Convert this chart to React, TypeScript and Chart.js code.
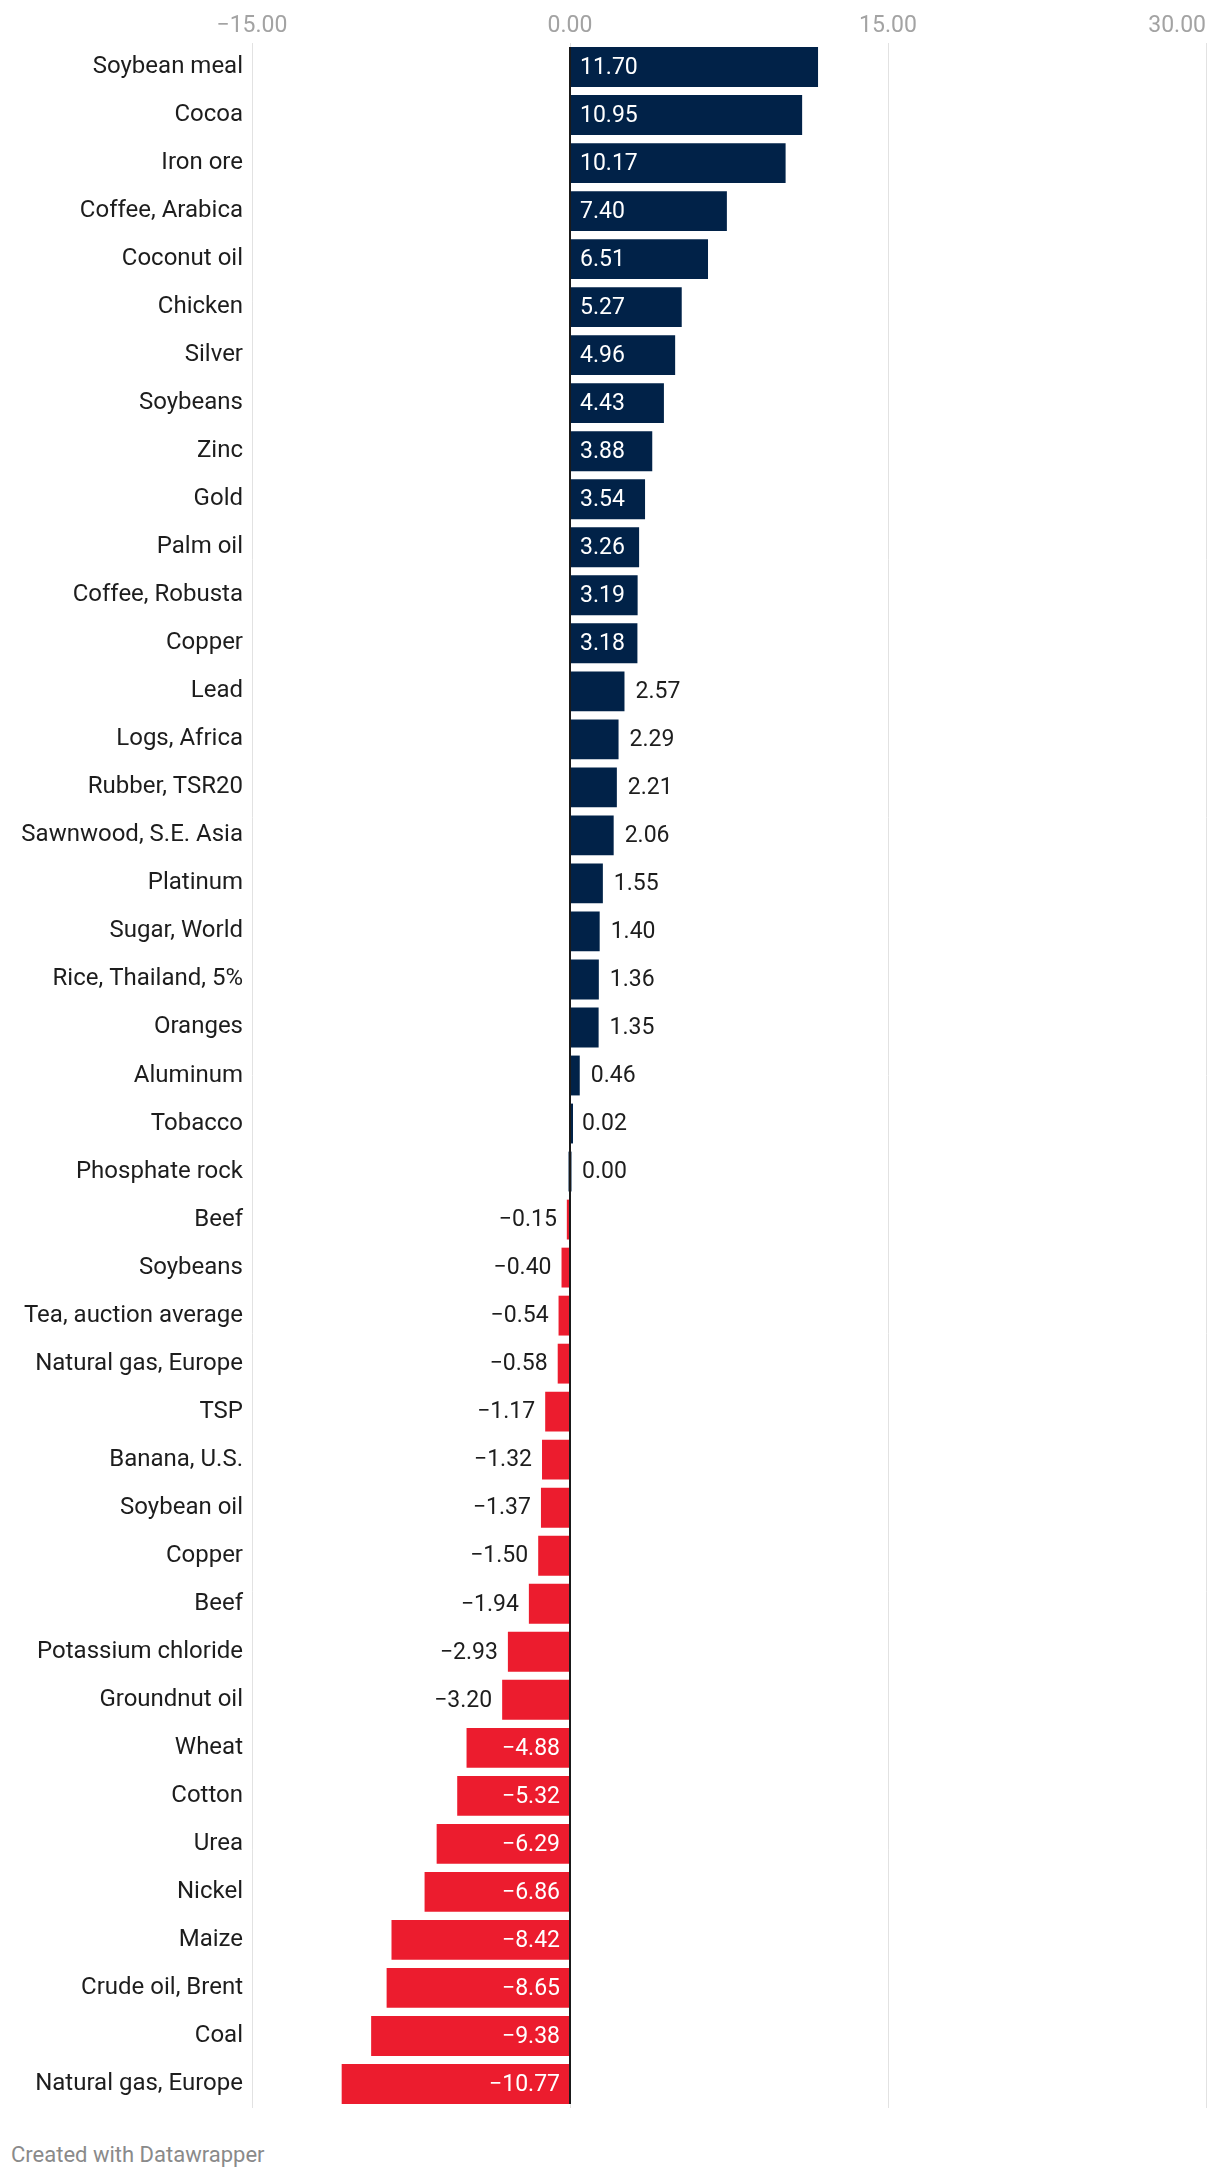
import React, { useEffect, useRef } from "react";
import { Chart, registerables } from "chart.js";

Chart.register(...registerables);

const categories: string[] = [
  "Soybean meal", "Cocoa", "Iron ore", "Coffee, Arabica", "Coconut oil", "Chicken", "Silver",
  "Soybeans", "Zinc", "Gold", "Palm oil", "Coffee, Robusta", "Copper", "Lead", "Logs, Africa",
  "Rubber, TSR20", "Sawnwood, S.E. Asia", "Platinum", "Sugar, World", "Rice, Thailand, 5%",
  "Oranges", "Aluminum", "Tobacco", "Phosphate rock", "Beef", "Soybeans", "Tea, auction average",
  "Natural gas, Europe", "TSP", "Banana, U.S.", "Soybean oil", "Copper", "Beef",
  "Potassium chloride", "Groundnut oil", "Wheat", "Cotton", "Urea", "Nickel", "Maize",
  "Crude oil, Brent", "Coal", "Natural gas, Europe",
];

const values: number[] = [
  11.7, 10.95, 10.17, 7.4, 6.51, 5.27, 4.96, 4.43, 3.88, 3.54, 3.26, 3.19, 3.18, 2.57, 2.29,
  2.21, 2.06, 1.55, 1.4, 1.36, 1.35, 0.46, 0.02, 0.0, -0.15, -0.4, -0.54, -0.58, -1.17, -1.32,
  -1.37, -1.5, -1.94, -2.93, -3.2, -4.88, -5.32, -6.29, -6.86, -8.42, -8.65, -9.38, -10.77,
];

const tickValues: number[] = [-15, 0, 15, 30];

const NAVY = "#012248";
const RED = "#ec1c2e";
const FONT = "Roboto, 'Noto Sans', sans-serif";

const fmt = (v: number) => (v < 0 ? "\u2212" : "") + Math.abs(v).toFixed(2);

const overlayPlugin = {
  id: "overlay",
  afterDatasetsDraw(chart: any) {
    const ctx: CanvasRenderingContext2D = chart.ctx;
    const xs = chart.scales.x;
    const meta = chart.getDatasetMeta(0);
    const zero = xs.getPixelForValue(0);

    // zero line
    const first = meta.data[0];
    const last = meta.data[meta.data.length - 1];
    ctx.save();
    ctx.strokeStyle = "#1a1a1a";
    ctx.lineWidth = 2;
    ctx.beginPath();
    ctx.moveTo(zero, first.y - first.height / 2);
    ctx.lineTo(zero, last.y + last.height / 2);
    ctx.stroke();

    // value labels
    ctx.font = `23px ${FONT}`;
    ctx.textBaseline = "middle";
    meta.data.forEach((bar: any, i: number) => {
      const v = values[i];
      const txt = fmt(v);
      const tw = ctx.measureText(txt).width;
      const end = xs.getPixelForValue(v);
      const bw = Math.abs(end - zero);
      const inside = bw >= tw + 20;
      if (v >= 0) {
        ctx.textAlign = "left";
        if (inside) {
          ctx.fillStyle = "#ffffff";
          ctx.fillText(txt, zero + 10, bar.y + 1);
        } else {
          ctx.fillStyle = "#1d1d1d";
          ctx.fillText(txt, Math.max(end, zero + 1) + 11, bar.y + 1);
        }
      } else {
        ctx.textAlign = "right";
        if (inside) {
          ctx.fillStyle = "#ffffff";
          ctx.fillText(txt, zero - 10, bar.y + 1);
        } else {
          ctx.fillStyle = "#1d1d1d";
          ctx.fillText(txt, end - 10, bar.y + 1);
        }
      }
    });

    // x tick labels (top)
    ctx.font = `23px ${FONT}`;
    ctx.fillStyle = "#a3a3a3";
    tickValues.forEach((t, i) => {
      const px = xs.getPixelForValue(t);
      ctx.textAlign = i === tickValues.length - 1 ? "right" : "center";
      ctx.fillText(fmt(t), px, 26);
    });
    ctx.restore();
  },
};

export default function App() {
  const ref = useRef<HTMLCanvasElement | null>(null);

  useEffect(() => {
    document.body.style.margin = "0";
    const canvas = ref.current;
    if (!canvas) return;
    const chart = new Chart(canvas, {
      type: "bar",
      data: {
        labels: categories,
        datasets: [
          {
            data: values,
            backgroundColor: values.map((v) => (v >= 0 ? NAVY : RED)),
            barPercentage: 0.83,
            categoryPercentage: 1,
            minBarLength: 3,
          },
        ],
      },
      options: {
        indexAxis: "y",
        animation: false,
        responsive: false,
        maintainAspectRatio: false,
        layout: { padding: { top: 0, right: 14, bottom: 4, left: 0 } },
        plugins: {
          legend: { display: false },
          tooltip: { enabled: false },
        },
        scales: {
          x: {
            position: "top",
            min: -15,
            max: 30,
            ticks: { stepSize: 15, display: false },
            grid: { color: "#e2e2e2", lineWidth: 1, drawTicks: false },
            border: { display: false },
            afterFit: (scale: any) => {
              scale.height = 43;
              scale.paddingLeft = 0;
              scale.paddingRight = 0;
            },
          },
          y: {
            ticks: {
              color: "#1d1d1d",
              font: { family: FONT, size: 24 },
              padding: 9,
              autoSkip: false,
            },
            grid: { display: false, drawTicks: false },
            border: { display: false },
            afterFit: (scale: any) => {
              scale.width = 252;
              scale.paddingTop = 0;
              scale.paddingBottom = 0;
            },
          },
        },
      },
      plugins: [overlayPlugin],
    });
    return () => chart.destroy();
  }, []);

  return (
    <div style={{ position: "relative", width: 1220, height: 2178, background: "#fff" }}>
      <canvas ref={ref} width={1220} height={2112} style={{ position: "absolute", left: 0, top: 0, width: 1220, height: 2112 }} />
      <div
        style={{
          position: "absolute",
          left: 11,
          top: 2141,
          fontFamily: FONT,
          fontSize: 22,
          color: "#8a8a8a",
          lineHeight: "28px",
          whiteSpace: "nowrap",
        }}
      >
        Created with Datawrapper
      </div>
    </div>
  );
}
